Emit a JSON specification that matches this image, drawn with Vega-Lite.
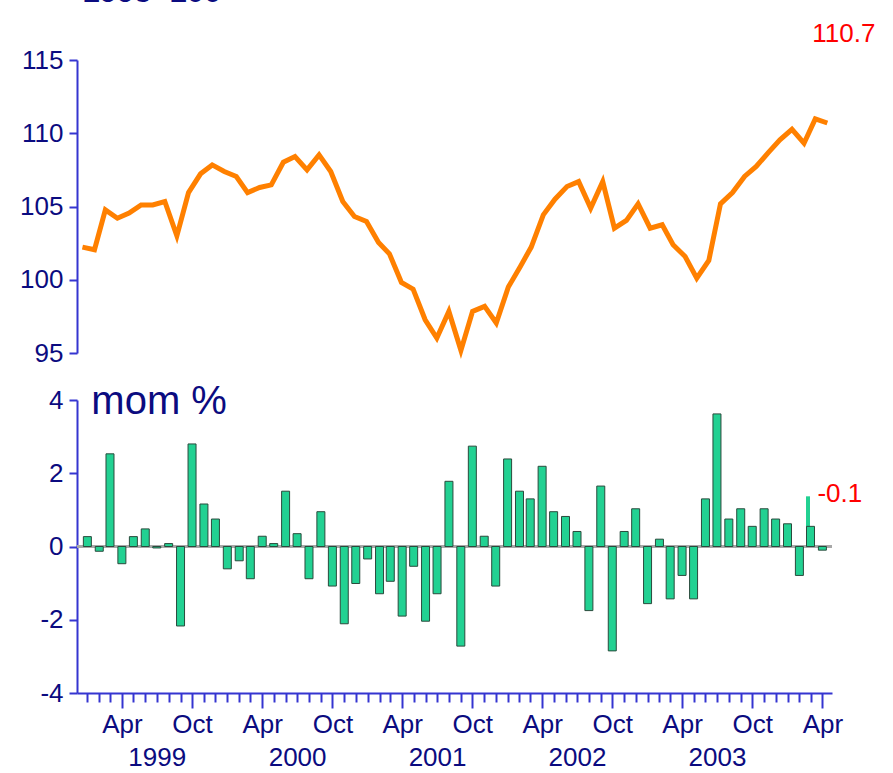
{
  "$schema": "https://vega.github.io/schema/vega-lite/v6.json",
  "autosize": {"type": "none"},
  "padding": {"left": 77, "top": 60, "right": 816, "bottom": 713},
  "background": "white",
  "spacing": 47,
  "bounds": "flush",
  "config": {
    "view": {"stroke": null},
    "font": "Liberation Sans",
    "axis": {
      "labelFont": "Liberation Sans",
      "labelFontSize": 26,
      "labelColor": "#0b0b80",
      "domainColor": "#3535d0",
      "tickColor": "#3535d0",
      "domainWidth": 2,
      "tickWidth": 2,
      "grid": false,
      "title": null
    }
  },
  "data": {
    "values": [
      {"date": "1999-01-01", "index": 102.23, "mom": 0.27},
      {"date": "1999-02-01", "index": 102.05, "mom": -0.13},
      {"date": "1999-03-01", "index": 104.77, "mom": 2.53},
      {"date": "1999-04-01", "index": 104.2, "mom": -0.47},
      {"date": "1999-05-01", "index": 104.55, "mom": 0.27},
      {"date": "1999-06-01", "index": 105.11, "mom": 0.48},
      {"date": "1999-07-01", "index": 105.11, "mom": -0.04},
      {"date": "1999-08-01", "index": 105.34, "mom": 0.08},
      {"date": "1999-09-01", "index": 103.0, "mom": -2.17},
      {"date": "1999-10-01", "index": 105.95, "mom": 2.8},
      {"date": "1999-11-01", "index": 107.23, "mom": 1.16},
      {"date": "1999-12-01", "index": 107.84, "mom": 0.75},
      {"date": "2000-01-01", "index": 107.39, "mom": -0.61},
      {"date": "2000-02-01", "index": 107.05, "mom": -0.39},
      {"date": "2000-03-01", "index": 105.95, "mom": -0.88},
      {"date": "2000-04-01", "index": 106.3, "mom": 0.28},
      {"date": "2000-05-01", "index": 106.48, "mom": 0.08},
      {"date": "2000-06-01", "index": 108.02, "mom": 1.51},
      {"date": "2000-07-01", "index": 108.41, "mom": 0.35},
      {"date": "2000-08-01", "index": 107.5, "mom": -0.88},
      {"date": "2000-09-01", "index": 108.52, "mom": 0.95},
      {"date": "2000-10-01", "index": 107.39, "mom": -1.08},
      {"date": "2000-11-01", "index": 105.34, "mom": -2.11},
      {"date": "2000-12-01", "index": 104.32, "mom": -1.01},
      {"date": "2001-01-01", "index": 103.98, "mom": -0.34},
      {"date": "2001-02-01", "index": 102.55, "mom": -1.29},
      {"date": "2001-03-01", "index": 101.77, "mom": -0.95},
      {"date": "2001-04-01", "index": 99.82, "mom": -1.9},
      {"date": "2001-05-01", "index": 99.36, "mom": -0.54},
      {"date": "2001-06-01", "index": 97.27, "mom": -2.04},
      {"date": "2001-07-01", "index": 96.02, "mom": -1.29},
      {"date": "2001-08-01", "index": 97.84, "mom": 1.78},
      {"date": "2001-09-01", "index": 95.18, "mom": -2.72},
      {"date": "2001-10-01", "index": 97.84, "mom": 2.74},
      {"date": "2001-11-01", "index": 98.18, "mom": 0.28},
      {"date": "2001-12-01", "index": 97.05, "mom": -1.08},
      {"date": "2002-01-01", "index": 99.5, "mom": 2.39},
      {"date": "2002-02-01", "index": 100.91, "mom": 1.51},
      {"date": "2002-03-01", "index": 102.23, "mom": 1.3},
      {"date": "2002-04-01", "index": 104.43, "mom": 2.19},
      {"date": "2002-05-01", "index": 105.5, "mom": 0.95},
      {"date": "2002-06-01", "index": 106.36, "mom": 0.82},
      {"date": "2002-07-01", "index": 106.7, "mom": 0.41},
      {"date": "2002-08-01", "index": 104.89, "mom": -1.75},
      {"date": "2002-09-01", "index": 106.7, "mom": 1.65},
      {"date": "2002-10-01", "index": 103.52, "mom": -2.85},
      {"date": "2002-11-01", "index": 104.05, "mom": 0.41},
      {"date": "2002-12-01", "index": 105.18, "mom": 1.03},
      {"date": "2003-01-01", "index": 103.52, "mom": -1.56},
      {"date": "2003-02-01", "index": 103.75, "mom": 0.2},
      {"date": "2003-03-01", "index": 102.39, "mom": -1.43},
      {"date": "2003-04-01", "index": 101.59, "mom": -0.79},
      {"date": "2003-05-01", "index": 100.11, "mom": -1.43},
      {"date": "2003-06-01", "index": 101.32, "mom": 1.3},
      {"date": "2003-07-01", "index": 105.18, "mom": 3.62},
      {"date": "2003-08-01", "index": 105.95, "mom": 0.75},
      {"date": "2003-09-01", "index": 107.05, "mom": 1.03},
      {"date": "2003-10-01", "index": 107.73, "mom": 0.55},
      {"date": "2003-11-01", "index": 108.68, "mom": 1.03},
      {"date": "2003-12-01", "index": 109.55, "mom": 0.75},
      {"date": "2004-01-01", "index": 110.27, "mom": 0.62},
      {"date": "2004-02-01", "index": 109.32, "mom": -0.79},
      {"date": "2004-03-01", "index": 110.98, "mom": 0.55, "rev": 1.37},
      {"date": "2004-04-01", "index": 110.7, "mom": -0.1}
    ]
  },
  "vconcat": [
    {
      "width": 755,
      "height": 293,
      "layer": [
        {
          "mark": {"type": "line", "color": "#ff8000", "strokeWidth": 5, "clip": false},
          "encoding": {
            "x": {
              "field": "date", "type": "temporal",
              "scale": {"type": "utc", "domain": [{"year": 1998, "month": 12, "date": 18, "utc": true}, {"year": 2004, "month": 4, "date": 13, "utc": true}]},
              "axis": null
            },
            "y": {
              "field": "index", "type": "quantitative",
              "scale": {"domain": [95, 115], "nice": false, "zero": false},
              "axis": {"values": [95, 100, 105, 110, 115], "tickSize": 8, "labelPadding": 6, "labelBaseline": "middle"}
            }
          }
        },
        {
          "transform": [{"filter": {"field": "date", "equal": {"year": 1999, "month": 1, "date": 1, "utc": true}}}],
          "mark": {"type": "text", "color": "#0b0b80", "fontSize": 31, "fontWeight": "bold", "align": "left", "baseline": "alphabetic", "dy": -58, "font": "Liberation Sans", "text": "1995=100"},
          "encoding": {
            "x": {"field": "date", "type": "temporal"},
            "y": {"datum": 115, "type": "quantitative"}
          }
        },
        {
          "transform": [{"filter": {"field": "date", "equal": {"year": 2004, "month": 4, "date": 1, "utc": true}}}],
          "mark": {"type": "text", "color": "#ff0000", "fontSize": 26, "align": "left", "baseline": "alphabetic", "dx": -15, "dy": -81, "font": "Liberation Sans"},
          "encoding": {
            "x": {"field": "date", "type": "temporal"},
            "y": {"field": "index", "type": "quantitative"},
            "text": {"field": "index", "type": "nominal"}
          }
        }
      ]
    },
    {
      "width": 755,
      "height": 293,
      "layer": [
        {
          "mark": {"type": "rule", "color": "#a8a8a8", "strokeWidth": 2},
          "encoding": {"y": {"datum": 0, "type": "quantitative"}}
        },
        {
          "transform": [{"filter": "isValid(datum.rev)"}],
          "mark": {"type": "bar", "color": "#22d192", "size": 4, "xOffset": -2.5},
          "encoding": {
            "x": {"field": "date", "type": "temporal"},
            "y": {"field": "rev", "type": "quantitative"}
          }
        },
        {
          "mark": {"type": "bar", "color": "#22d192", "stroke": "#2a4a3c", "strokeWidth": 1, "size": 8},
          "encoding": {
            "x": {
              "field": "date", "type": "temporal",
              "scale": {"type": "utc", "domain": [{"year": 1998, "month": 12, "date": 18, "utc": true}, {"year": 2004, "month": 4, "date": 13, "utc": true}]},
              "axis": {
                "tickCount": {"interval": "month", "step": 1},
                "labelExpr": "utcmonth(datum.value) == 3 ? 'Apr' : (utcmonth(datum.value) == 9 ? 'Oct' : (utcmonth(datum.value) == 6 ? ['', '' + utcyear(datum.value)] : ''))",
                "tickSize": {"condition": {"test": "utcmonth(datum.value) == 3 || utcmonth(datum.value) == 9", "value": 15}, "value": 9},
                "labelPadding": 3,
                "labelLineHeight": 39,
                "labelOverlap": false,
                "labelFlush": false,
                "labelBound": false
              }
            },
            "y": {
              "field": "mom", "type": "quantitative",
              "scale": {"domain": [-4, 4], "nice": false},
              "axis": {"values": [-4, -2, 0, 2, 4], "labelExpr": "'' + datum.value", "tickSize": 8, "labelPadding": 6, "labelBaseline": "middle"}
            }
          }
        },
        {
          "transform": [{"filter": {"field": "date", "equal": {"year": 1999, "month": 1, "date": 1, "utc": true}}}],
          "mark": {"type": "text", "color": "#0b0b80", "fontSize": 40, "align": "left", "baseline": "alphabetic", "dx": 4, "dy": 14, "font": "Liberation Sans", "text": "mom %"},
          "encoding": {
            "x": {"field": "date", "type": "temporal"},
            "y": {"datum": 4, "type": "quantitative"}
          }
        },
        {
          "transform": [{"filter": {"field": "date", "equal": {"year": 2004, "month": 4, "date": 1, "utc": true}}}],
          "mark": {"type": "text", "color": "#ff0000", "fontSize": 26, "align": "left", "baseline": "alphabetic", "dx": -5, "dy": -48, "font": "Liberation Sans"},
          "encoding": {
            "x": {"field": "date", "type": "temporal"},
            "y": {"field": "mom", "type": "quantitative"},
            "text": {"field": "mom", "type": "nominal"}
          }
        }
      ]
    }
  ]
}
